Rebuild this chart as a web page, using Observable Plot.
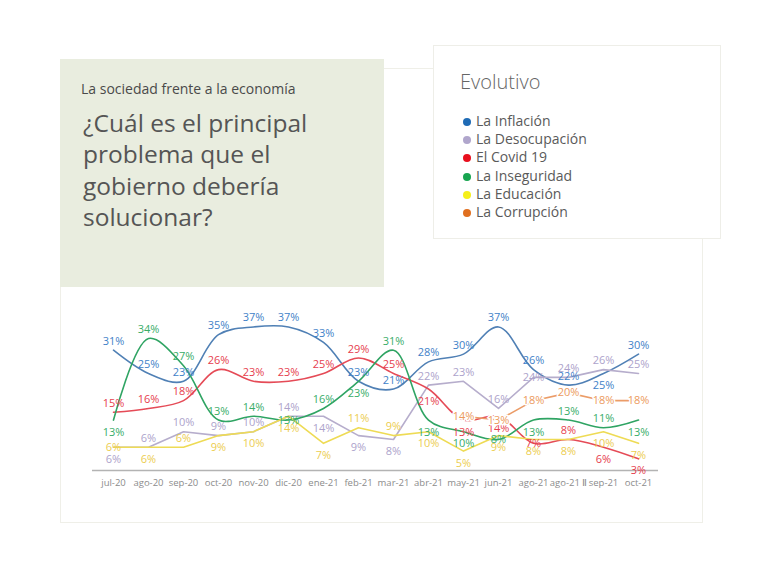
<!DOCTYPE html>
<html>
<head>
<meta charset="utf-8">
<script src="https://cdn.jsdelivr.net/npm/d3@7"></script>
<script src="https://cdn.jsdelivr.net/npm/@observablehq/plot@0.6"></script>
<style>
  html, body { margin: 0; padding: 0; background: #fff; }
  body { width: 768px; height: 572px; position: relative; overflow: hidden; font-family: "Open Sans", "Noto Sans", sans-serif; }
  .card { position: absolute; left: 60px; top: 68px; width: 641px; height: 453px; border: 1px solid #efefe8; background: #fff; }
  .intro { position: absolute; left: 60px; top: 59px; width: 324px; height: 228px; background: #e9eddf; }
  .intro .kicker { position: absolute; left: 21px; top: 20px; font-size: 14px; color: #4a4a4a; white-space: nowrap; }
  .intro .title { position: absolute; left: 23px; top: 48px; font-size: 24.5px; line-height: 31.3px; color: #555; white-space: nowrap; }
  .legend { position: absolute; left: 433px; top: 45px; width: 286px; height: 192px; background: #fff; border: 1px solid #eeeee8; }
  .legend .ltitle { position: absolute; left: 26px; top: 22px; font-size: 20px; color: #666; font-weight: 300; }
  .legend ul { position: absolute; left: 29px; top: 66px; margin: 0; padding: 0; list-style: none; }
  .legend li { height: 18.2px; line-height: 18px; font-size: 14px; color: #5a5a5a; white-space: nowrap; }
  .legend .dot { display: inline-block; width: 8px; height: 8px; border-radius: 50%; margin-right: 5px; vertical-align: 0px; }
  #chart { position: absolute; left: 60px; top: 300px; }
</style>
</head>
<body>
<div class="card"></div>
<div class="intro">
  <div class="kicker">La sociedad frente a la economía</div>
  <div class="title">¿Cuál es el principal<br>problema que el<br>gobierno debería<br>solucionar?</div>
</div>
<div class="legend">
  <div class="ltitle">Evolutivo</div>
  <ul id="legend"></ul>
</div>
<div id="chart"></div>
<script>
// ---- data ----
const months = ["jul-20","ago-20","sep-20","oct-20","nov-20","dic-20","ene-21","feb-21","mar-21","abr-21","may-21","jun-21","ago-21","ago-21 Ⅱ","sep-21","oct-21"];
const inflacion    = [31, 25, 23, 35, 37, 37, 33, 23, 21, 28, 30, 37, 26, 22, 25, 30];
const desocupacion = [ 6,  6, 10,  9, 10, 14, 14,  9,  8, 22, 23, 16, 24, 24, 26, 25];
const covid        = [15, 16, 18, 26, 23, 23, 25, 29, 25, 21, 13, 14,  7,  8,  6,  3];
const inseguridad  = [13, 34, 27, 13, 14, 13, 16, 23, 31, 13, 10,  8, 13, 13, 11, 13];
const educacion    = [ 6,  6,  6,  9, 10, 14,  7, 11,  9, 10,  5,  9,  8,  8, 10,  7];
const corrupcion   = [null, null, null, null, null, null, null, null, null, null, 14, 13, 18, 20, 18, 18];
const seriesNames  = ["La Inflación","La Desocupación","El Covid 19","La Inseguridad","La Educación","La Corrupción"];
const seriesValues = [inflacion, desocupacion, covid, inseguridad, educacion, corrupcion];

// ---- styles ----
const styles = {
  "La Inflación":    {line: "#5080b5", label: "#3f82c8", dot: "#1f6bb5", curve: "catmull-rom"},
  "La Desocupación": {line: "#b6adcc", label: "#ada3cb", dot: "#b0a6cc", curve: "linear"},
  "El Covid 19":     {line: "#e54b57", label: "#e6404e", dot: "#e8101e", curve: "catmull-rom"},
  "La Inseguridad":  {line: "#2fa463", label: "#38ad68", dot: "#18a550", curve: "catmull-rom"},
  "La Educación":    {line: "#eedb55", label: "#eccd50", dot: "#f5ef1a", curve: "linear"},
  "La Corrupción":   {line: "#eb9c68", label: "#ec9a5c", dot: "#e06f1f", curve: "linear", centered: true}
};
const offsets = {above: -9, below: 12, center: 0};
const pxPerUnit = 3.88, labelH = 12.5;

const rows = seriesNames.flatMap((name, s) =>
  months.map((m, i) => ({serie: name, idx: s, mes: m, valor: seriesValues[s][i]}))
).filter(d => d.valor != null);

// label placement: greedy, top series first, prefer above, then below, then on the line
const span = (v, pos) => {
  const c = v - offsets[pos] / pxPerUnit, h = labelH / 2 / pxPerUnit;
  return [c - h, c + h];
};
const overlap = (a, b) => Math.max(0, Math.min(a[1], b[1]) - Math.max(a[0], b[0]));
months.forEach(m => {
  const pts = rows.filter(d => d.mes === m).sort((a, b) => b.valor - a.valor || a.idx - b.idx);
  const placed = pts.filter(p => styles[p.serie].centered).map(p => { p.pos = "center"; return span(p.valor, "center"); });
  pts.filter(p => !styles[p.serie].centered).forEach(p => {
    const cost = pos => {
      const iv = span(p.valor, pos);
      return placed.reduce((s, o) => s + overlap(o, iv), 0) + Math.max(0, -0.6 - iv[0]);
    };
    const order = ["above", "below", "center"];
    const costs = order.map(cost);
    const free = order.find((pos, k) => costs[k] === 0);
    p.pos = free || order[costs.indexOf(Math.min(...costs))];
    placed.push(span(p.valor, p.pos));
  });
});

// legend
const ul = document.getElementById("legend");
seriesNames.forEach(n => {
  const li = document.createElement("li");
  li.innerHTML = `<span class="dot" style="background:${styles[n].dot}"></span>${n}`;
  ul.appendChild(li);
});

const lineMarks = seriesNames.map(n => Plot.line(rows.filter(d => d.serie === n), {
  x: "mes", y: "valor", stroke: styles[n].line, strokeWidth: 1.6, curve: styles[n].curve
}));
const labelMarks = seriesNames.flatMap(n => Object.keys(offsets).map(pos => Plot.text(
  rows.filter(d => d.serie === n && d.pos === pos), {
    x: "mes", y: "valor", text: d => d.valor + "%", fill: styles[n].label,
    fontSize: 11, dy: offsets[pos],
    ...(styles[n].centered ? {stroke: "white", strokeWidth: 3} : {})
  })));

const chart = Plot.plot({
  width: 642,
  height: 200,
  marginLeft: 32,
  marginRight: 44,
  marginTop: 14.8,
  marginBottom: 30,
  style: {fontFamily: "'Open Sans', 'Noto Sans', sans-serif", background: "transparent", overflow: "visible"},
  x: {type: "point", domain: months, padding: 0.5, label: null},
  y: {domain: [0, 40], axis: null},
  marks: [
    Plot.ruleY([0], {stroke: "#b3b3b3", strokeWidth: 1.5}),
    ...lineMarks,
    ...labelMarks,
    Plot.axisX({tickSize: 0, tickPadding: 9, fontSize: 9.5, color: "#8c8c8c", label: null})
  ]
});
document.getElementById("chart").appendChild(chart);
</script>
</body>
</html>
